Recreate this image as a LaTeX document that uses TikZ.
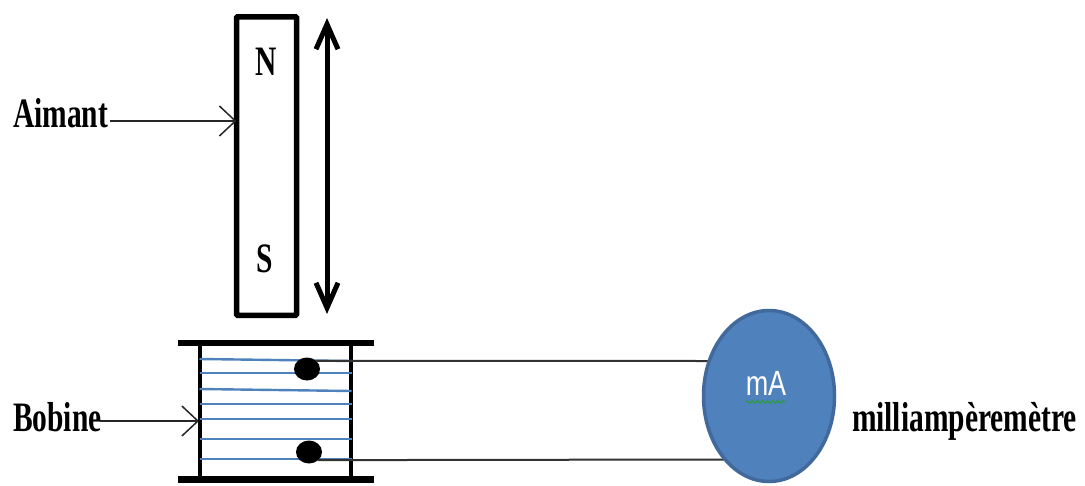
\documentclass[tikz,border=0pt]{standalone}
\usepackage{fontspec}
\setmainfont{Liberation Serif}
\newfontfamily\ampfont{Liberation Sans}
\usetikzlibrary{arrows.meta,shapes.geometric,decorations.pathmorphing}
\definecolor{coilblue}{HTML}{4F81BD}
\definecolor{ampedge}{HTML}{41699B}
\definecolor{squiggle}{HTML}{2E9A46}
\newcommand{\stretchlabel}[1]{\scalebox{1}[1.42]{\fontsize{29.5}{29.5}\selectfont\bfseries #1}}
\tikzset{
  x=1pt,y=-1pt,
  lab/.style={inner sep=0pt,outer sep=0pt,anchor=base west,text=black},
  pole/.style={inner sep=0pt,outer sep=0pt,text=black},
  pointer/.style={draw=black!85,line width=1.5pt,-{Straight Barb[length=16pt,width=30pt,line width=1.5pt]}},
  flange/.style={line width=6.5pt,black},
  post/.style={line width=4.5pt,black},
  turn/.style={line width=2.4pt,coilblue},
  wire/.style={line width=2pt,black!80},
  dot/.style={ellipse,fill=black,inner sep=0pt,outer sep=0pt,minimum width=26pt,minimum height=23pt},
}
\begin{document}
\begin{tikzpicture}
\useasboundingbox (0,0) rectangle (1085,485);
% magnet
\node[draw=black,line width=5.5pt,rounded corners=1pt,fill=white,minimum width=60pt,minimum height=298.5pt,inner sep=0pt,outer sep=0pt] (magnet) at (266.5,166) {};
\node[pole] (north) at (266,62) {\stretchlabel{N}};
\node[pole] (south) at (265,259) {\stretchlabel{S}};
\coordinate (movetop) at (327,18);
\coordinate (movebot) at (327,314);
\draw[line width=5pt,black,{Straight Barb[length=25pt,width=22pt,line width=5pt]}-{Straight Barb[length=25pt,width=22pt,line width=5pt]}] (movetop) -- (movebot);
% labels
\node[lab] (aimant) at (13,127) {\stretchlabel{Aimant}};
\node[lab] (bobine) at (13,431) {\stretchlabel{Bobine}};
\node[lab] (milli) at (852,431) {\stretchlabel{milliampèremètre}};
% bobbin
\draw[post] (200,343) -- (200,479);
\draw[post] (351,343) -- (351,479);
\draw[flange] (178,343) -- (374,343);
\draw[flange] (178,479.5) -- (374,479.5);
% coil turns
\foreach \ya/\yb in {359/361,373/373,389/391,404/404,419/419,439/439,459/459}
  \draw[turn] (199.5,\ya) -- (351.5,\yb);
\node[dot] (dot1) at (307,369) {};
\node[dot] (dot2) at (309,452) {};
% ammeter
\coordinate (ampin1) at (712,361);
\coordinate (ampin2) at (726,459.5);
\draw[wire] (dot1.north east) -- (ampin1);
\draw[wire] (dot2.south east) -- (ampin2);
\node[ellipse,draw=ampedge,line width=3.5pt,fill=coilblue,minimum width=131pt,minimum height=171pt,inner sep=0pt,outer sep=0pt] (amp) at (769,396) {};
\node[pole,text=white] (maunit) at (766,383) {\scalebox{1}[1.3]{\ampfont\fontsize{27}{27}\selectfont mA}};
\coordinate (sqa) at (746,402);
\coordinate (sqb) at (786,402);
\draw[squiggle,line width=1.2pt,decorate,decoration={snake,amplitude=1.3pt,segment length=5pt}] (sqa) -- (sqb);
% pointers
\coordinate (aimstart) at (110,121);
\coordinate (bobstart) at (100,421);
\draw[pointer] (aimstart) -- (aimstart -| magnet.west);
\draw[pointer] (bobstart) -- (199,421);
\end{tikzpicture}
\end{document}
